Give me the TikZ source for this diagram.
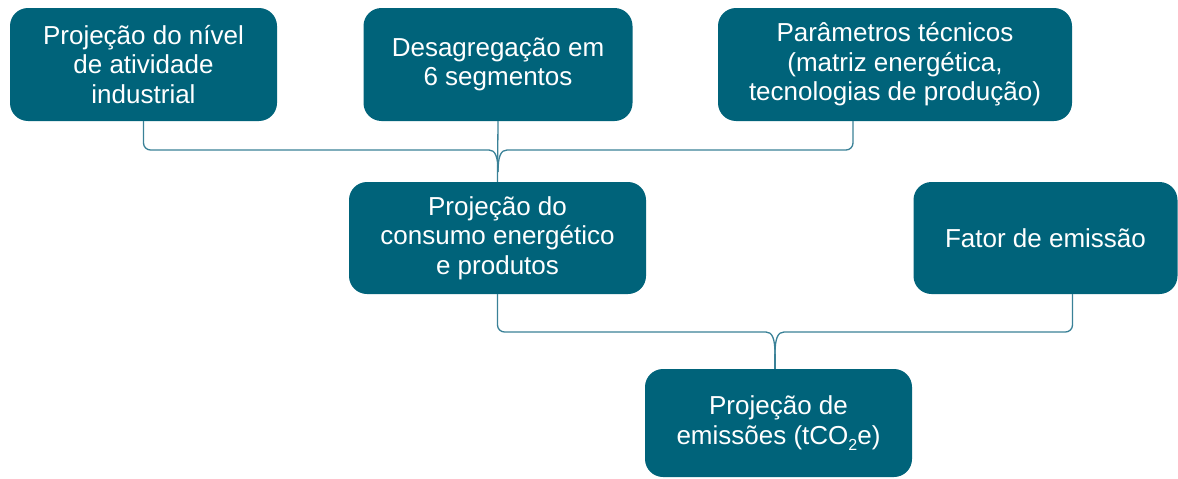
\documentclass[tikz,border=0pt]{standalone}
\usepackage{fontspec}
\setmainfont{Liberation Sans}
\usetikzlibrary{calc}
\definecolor{boxfill}{HTML}{00637A}
\definecolor{linecol}{HTML}{3A8197}
\begin{document}
\begin{tikzpicture}[x=1pt,y=-1pt,
  box/.style={fill=boxfill, rounded corners=18pt, text=white, align=center,
    inner sep=0pt, font=\fontsize{26}{29.5}\selectfont},
  conn/.style={draw=linecol, line width=1.3pt},
  brk/.style={conn, rounded corners=7pt}]
\useasboundingbox (0,0) rectangle (1178,479);
\node[box, minimum width=267pt, minimum height=113pt] (b1) at (143.5,64.5)
  {Projeção do nível\\de atividade\\industrial};
\node[box, minimum width=269pt, minimum height=113pt] (b2) at (498,64.5)
  {Desagregação em\\6 segmentos};
\node[box, minimum width=354pt, minimum height=113pt] (b3) at (895,64.5)
  {Parâmetros técnicos\\(matriz energética,\\tecnologias de produção)};
\node[box, minimum width=297pt, minimum height=112pt] (b4) at (497.5,238)
  {Projeção do\\consumo energético\\e produtos};
\node[box, minimum width=264pt, minimum height=112pt] (b5) at (1045.5,238)
  {Fator de emissão};
\node[box, minimum width=267pt, minimum height=108pt] (b6) at (778.5,423)
  {Projeção de\\emissões (tCO\raisebox{-0.22em}{\fontsize{16}{16}\selectfont 2}e)};
% bracket 1
\coordinate (r3) at ($(b3.south)+(-42,0)$);
\coordinate (jl1) at (489,150);
\coordinate (jr1) at (507,150);
\coordinate (c1) at (498,172);
\draw[brk] (b1.south) |- (jl1);
\draw[brk] (r3) |- (jr1);
\draw[conn] (jl1) .. controls (495,150) and (498,156) .. (c1);
\draw[conn] (jr1) .. controls (501,150) and (498,156) .. (c1);
\draw[conn] (b2.south) -- (b4.north);
% bracket 2
\coordinate (r5) at ($(b5.south)+(27,0)$);
\coordinate (jl2) at (766,332);
\coordinate (jr2) at (784,332);
\coordinate (c2) at (775,354);
\coordinate (t6) at (775,369);
\draw[brk] (b4.south) |- (jl2);
\draw[brk] (r5) |- (jr2);
\draw[conn] (jl2) .. controls (772,332) and (775,338) .. (c2);
\draw[conn] (jr2) .. controls (778,332) and (775,338) .. (c2);
\draw[conn] (c2) -- (t6);
\end{tikzpicture}
\end{document}
